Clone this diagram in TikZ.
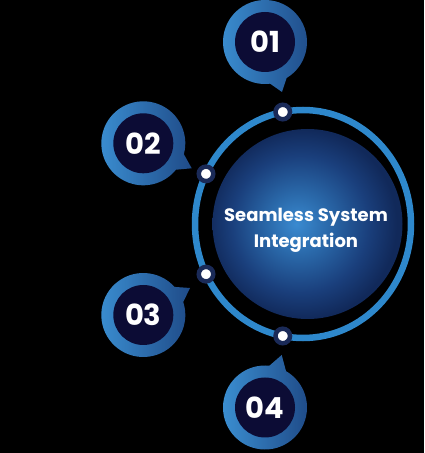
\documentclass[tikz,border=0pt]{standalone}
\usepackage{fontspec}
\setmainfont{Poppins}
\usepackage{tikz}
\usetikzlibrary{calc, positioning}

\definecolor{ringblue}{HTML}{2E88CC}
\definecolor{bubblelight}{HTML}{3B8FD2}
\definecolor{bubbledark}{HTML}{1F4B88}
\definecolor{navy}{HTML}{0C0C35}
\definecolor{dotnavy}{HTML}{1A2A58}
\definecolor{glowA}{HTML}{3A8AD0}
\definecolor{glowB}{HTML}{2A69AA}
\definecolor{glowC}{HTML}{1A3F7C}
\definecolor{glowD}{HTML}{11295A}

\pgfdeclareradialshading{diskglow}{\pgfpoint{-3bp}{0bp}}{%
  color(0bp)=(glowA); color(8bp)=(glowB); color(18bp)=(glowC);
  color(25bp)=(glowD); color(50bp)=(glowD)}

\tikzset{
    x=1pt, y=1pt, % one unit is one pixel of the picture
    ringline/.style={draw=ringblue, line width=6.5pt}, % the big outer ring
    bubble/.style={left color=bubblelight, right color=bubbledark}, % outer part of a number bubble
    numdisk/.style={circle, fill=navy, minimum size=60pt, inner sep=0pt,
        text=white, font=\fontsize{29}{30}\selectfont\bfseries},
    marker/.style={circle, fill=white, draw=dotnavy, line width=4.5pt,
        minimum size=14.5pt, inner sep=0pt}, % small dots on the ring
    hub/.style={circle, shading=diskglow, minimum size=190pt, inner sep=0pt},
    hubtext/.style={text=white, align=center, inner sep=0pt,
        font=\fontsize{18}{26}\selectfont\bfseries},
}

\begin{document}
\begin{tikzpicture}
    \useasboundingbox[fill=black] (0,0) rectangle (424,453);

    % ring and centre disk
    \coordinate (ringc) at (303,229);
    \draw[ringline] (ringc) ellipse [x radius=108, y radius=114];
    \node[hub] (hub) at (307.5,229) {};
    \node[hubtext] (title) at ([xshift=-1.5, yshift=-6]hub.center) {Seamless System\\Integration};

    % dots on the ring
    \node[marker] (d1) at ($(ringc)+(100.8:108 and 114)$) {};
    \node[marker] (d2) at ($(ringc)+(153.9:108 and 114)$) {};
    \node[marker] (d3) at ($(ringc)+(206.1:108 and 114)$) {};
    \node[marker] (d4) at ($(ringc)+(259.2:108 and 114)$) {};

    % bubble centres and the tips of their tails
    \coordinate (b1) at (265,411);   \coordinate (t1) at (282,361);
    \coordinate (b2) at (143.3,309.7); \coordinate (t2) at (191.7,284.7);
    \coordinate (b3) at (143.3,138); \coordinate (t3) at (190,165);
    \coordinate (b4) at (265,45.5);  \coordinate (t4) at (281.7,98);

    \path[bubble] ($(b1)+(-59:42)$) arc[start angle=-59, end angle=277, radius=42] -- (t1) -- cycle;
    \path[bubble] ($(b2)+(-15:42)$) arc[start angle=-15, end angle=321, radius=42] -- (t2) -- cycle;
    \path[bubble] ($(b3)+(42:42)$) arc[start angle=42, end angle=378, radius=42] -- (t3) -- cycle;
    \path[bubble] ($(b4)+(84:42)$) arc[start angle=84, end angle=420, radius=42] -- (t4) -- cycle;

    \node[numdisk] (n1) at (b1) {01};
    \node[numdisk] (n2) at (b2) {02};
    \node[numdisk] (n3) at (b3) {03};
    \node[numdisk] (n4) at (b4) {04};
\end{tikzpicture}
\end{document}
